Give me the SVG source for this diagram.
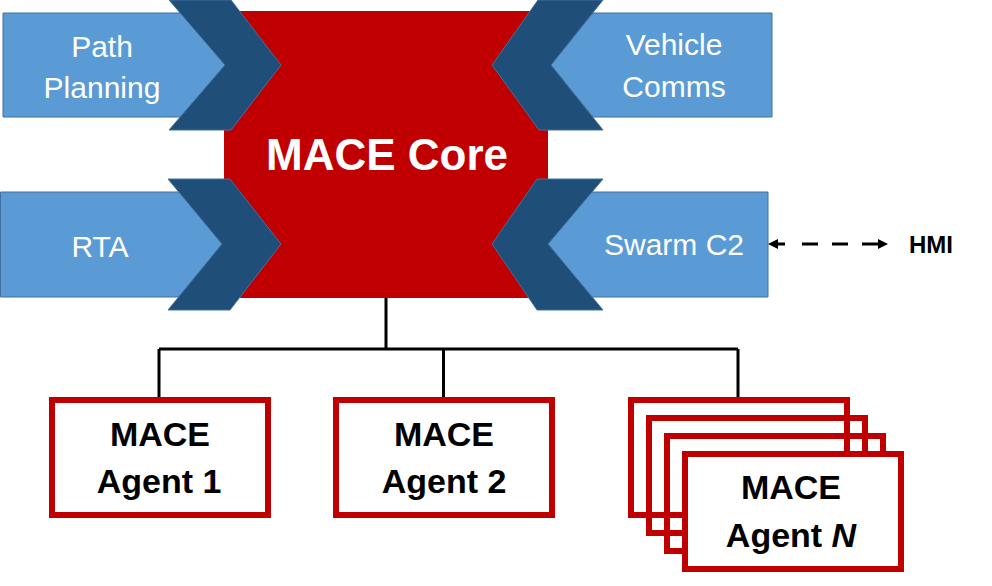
<svg xmlns="http://www.w3.org/2000/svg" width="992" height="586" viewBox="0 0 992 586">
<defs>
<style>
.blue{fill:#5B9BD5;stroke:#41719C;stroke-width:1}
.chev{fill:#1F4E79;stroke:#41719C;stroke-width:1}
.core{fill:#C00000}
.lbl{font-family:"Liberation Sans",Arial,sans-serif;font-size:30px;fill:#FFFFFF;text-anchor:middle}
.corelbl{font-family:"Liberation Sans",Arial,sans-serif;font-size:44px;font-weight:bold;fill:#FFFFFF;text-anchor:middle}
.agent{fill:#FFFFFF;stroke:#C00000;stroke-width:6}
.agentback{fill:none;stroke:#C00000;stroke-width:6}
.albl{font-family:"Liberation Sans",Arial,sans-serif;font-size:34px;font-weight:bold;fill:#000000;text-anchor:middle}
.hmi{font-family:"Liberation Sans",Arial,sans-serif;font-size:24px;font-weight:bold;fill:#000000}
.wire{fill:none;stroke:#000000;stroke-width:3}
</style>
<marker id="ah" viewBox="0 0 10 10" refX="2" refY="5" markerWidth="10" markerHeight="11" markerUnits="userSpaceOnUse" orient="auto-start-reverse">
<path d="M0,0 L10,5 L0,10 z" fill="#000000"/>
</marker>
</defs>

<g id="mace-core">
<rect class="core" x="224" y="11" width="324" height="287"/>
</g>

<g id="path-planning">
<polygon class="blue" points="3,13 183,13 225,65 183,117 3,117"/>
<polygon class="chev" points="169,0 231,0 281,65 231,130 169,130 225,65"/>
<text class="lbl" x="102" y="57">Path</text>
<text class="lbl" x="102" y="98">Planning</text>
</g>

<g id="vehicle-comms">
<polygon class="blue" points="772,13 593,13 551,65 593,117 772,117"/>
<polygon class="chev" points="603,0 538,0 492,65 539,130 603,130 551,65"/>
<text class="lbl" x="674" y="55">Vehicle</text>
<text class="lbl" x="674" y="97">Comms</text>
</g>

<g id="rta">
<polygon class="blue" points="0.5,192 180,192 222,244 180,297 0.5,297"/>
<polygon class="chev" points="168,179 230,179 281,244 230,310 168,310 222,244"/>
<text class="lbl" x="100" y="257">RTA</text>
</g>

<g id="swarm-c2">
<polygon class="blue" points="768,192 590,192 548,244 590,297 768,297"/>
<polygon class="chev" points="603,179 537,179 492,244 537,310 603,310 548,244"/>
<text class="lbl" x="674" y="255">Swarm C2</text>
</g>

<g id="mace-core-label">
<text class="corelbl" x="387" y="170">MACE Core</text>
</g>

<g id="hmi">
<text class="hmi" x="909" y="253">HMI</text>
</g>

<g id="connectors">
<path class="wire" d="M386,298 V349 M159,349 H738 M159,349 V397 M443.5,349 V397 M738,349 V397"/>
<line class="wire" x1="776" y1="244" x2="880" y2="244" stroke-dasharray="9 17 16 14 16 14 18 50" marker-start="url(#ah)" marker-end="url(#ah)"/>
</g>

<g id="agent-1">
<rect class="agent" x="52" y="400" width="216" height="115"/>
<text class="albl" x="160" y="446">MACE</text>
<text class="albl" x="159" y="493">Agent 1</text>
</g>

<g id="agent-2">
<rect class="agent" x="336" y="400" width="216" height="115"/>
<text class="albl" x="444" y="446">MACE</text>
<text class="albl" x="444" y="493">Agent 2</text>
</g>

<g id="agent-n">
<rect class="agentback" x="631" y="400" width="216" height="115"/>
<rect class="agentback" x="649" y="418" width="216" height="115"/>
<rect class="agentback" x="667" y="436" width="216" height="115"/>
<rect class="agent" x="685" y="454" width="216" height="115"/>
<text class="albl" x="791" y="499">MACE</text>
<text class="albl" x="791" y="547">Agent <tspan font-style="italic">N</tspan></text>
</g>
</svg>
